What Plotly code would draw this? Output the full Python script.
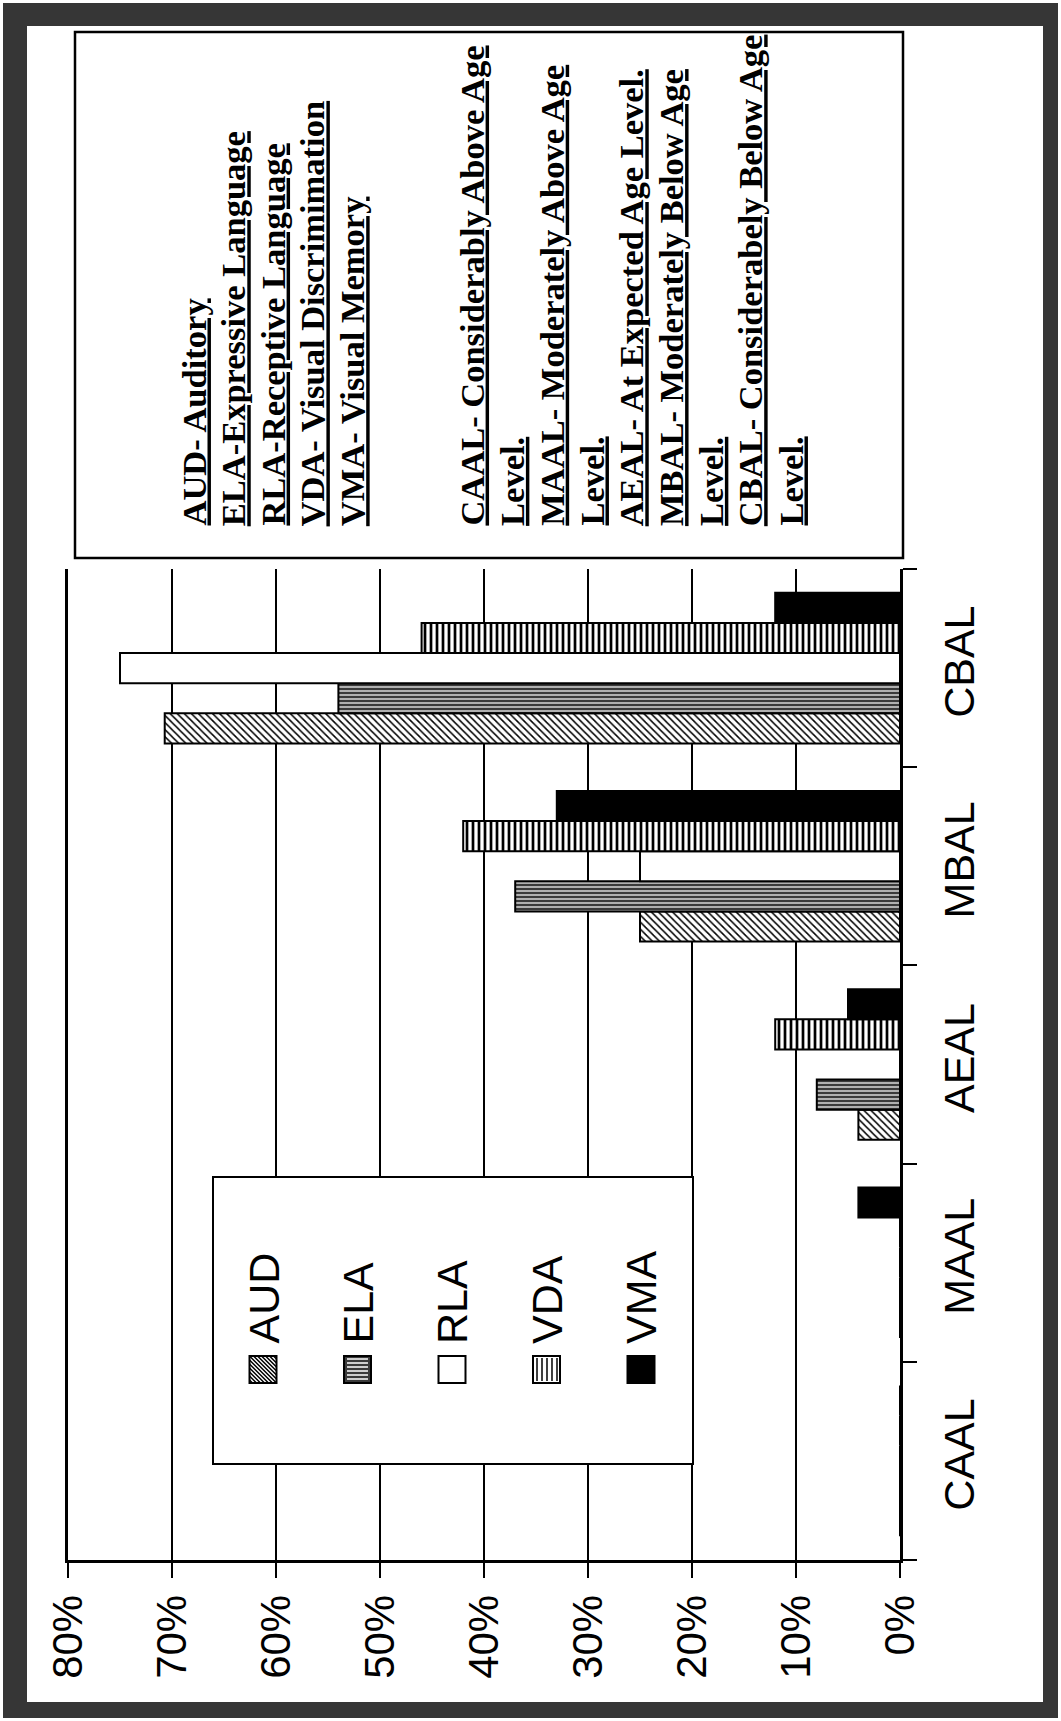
import plotly.graph_objects as go

W, H = 1061, 1721

# ---- data -------------------------------------------------------------
categories = ["CAAL", "MAAL", "AEAL", "MBAL", "CBAL"]
series_names = ["AUD", "ELA", "RLA", "VDA", "VMA"]
aud = [0, 0, 4, 25, 70.7]
ela = [0, 0, 8, 37, 54]
rla = [0, 0, 0, 25, 75]
vda = [0, 0, 12, 42, 46]
vma = [0, 4, 5, 33, 12]
value_ticks = [0, 10, 20, 30, 40, 50, 60, 70, 80]
value_tick_labels = [f"{v}%" for v in value_ticks]

definitions = [
    "AUD- Auditory",
    "ELA-Expressive Language",
    "RLA-Receptive Language",
    "VDA- Visual Discrimimation",
    "VMA- Visual Memory",
    "",
    "",
    "CAAL- Considerably Above Age",
    "Level.",
    "MAAL- Moderately Above Age",
    "Level.",
    "AEAL- At Expected Age Level.",
    "MBAL- Moderately Below Age",
    "Level.",
    "CBAL- Considerabely Below Age",
    "Level.",
]

# ---- styles -----------------------------------------------------------
SANS = "Liberation Sans, Arial, sans-serif"
SERIF = "Liberation Serif, Times New Roman, serif"
OUTLINE = dict(color="black", width=2)

series_markers = {
    "AUD": dict(color="white", line=OUTLINE,
                pattern=dict(shape="\\", fgcolor="black", bgcolor="white",
                             size=5, solidity=0.3, fillmode="replace")),
    "ELA": dict(color="#3a3a3a", line=OUTLINE,
                pattern=dict(shape="-", fgcolor="white", bgcolor="#3a3a3a",
                             size=4, solidity=0.3, fillmode="replace")),
    "RLA": dict(color="white", line=OUTLINE),
    "VDA": dict(color="white", line=OUTLINE,
                pattern=dict(shape="|", fgcolor="black", bgcolor="white",
                             size=6, solidity=0.45, fillmode="replace")),
    "VMA": dict(color="black", line=OUTLINE),
}
series_values = {"AUD": aud, "ELA": ela, "RLA": rla, "VDA": vda, "VMA": vma}


def px(x):
    return x / W


def py(y):
    return 1 - y / H


fig = go.Figure()
for name in series_names:
    fig.add_trace(go.Bar(
        name=name,
        y=categories,
        x=series_values[name],
        orientation="h",
        marker=series_markers[name],
        showlegend=False,
    ))

fig.update_layout(
    template="none",
    width=W,
    height=H,
    margin=dict(l=0, r=0, t=0, b=0),
    paper_bgcolor="white",
    plot_bgcolor="white",
    barmode="group",
    bargap=0.24,
    bargroupgap=0,
    xaxis=dict(
        domain=[px(68), px(900)],
        range=[80, 0],
        tickvals=value_ticks,
        ticktext=value_tick_labels,
        tickangle=-90,
        tickfont=dict(family=SANS, size=42, color="black"),
        ticks="outside",
        ticklen=15,
        tickwidth=2,
        tickcolor="black",
        ticklabelstandoff=0,
        showline=True,
        linecolor="black",
        linewidth=3,
        showgrid=True,
        gridcolor="black",
        gridwidth=2,
        zeroline=False,
        automargin=False,
        fixedrange=True,
    ),
    yaxis=dict(
        domain=[py(1560), py(569)],
        categoryorder="array",
        categoryarray=categories,
        side="right",
        tickangle=-90,
        tickfont=dict(family=SANS, size=43, color="black"),
        ticks="outside",
        tickson="boundaries",
        ticklen=14,
        tickwidth=2,
        tickcolor="black",
        ticklabelstandoff=20,
        showline=True,
        mirror=True,
        linecolor="black",
        linewidth=2.5,
        showgrid=False,
        zeroline=False,
        automargin=False,
        fixedrange=True,
    ),
)

shapes = []
annotations = []

# outer dark frame (four bands)
FRAME = "#363636"
for (x0, y0, x1, y1) in [(3, 3, 1058, 26), (3, 1702, 1058, 1718),
                         (3, 3, 27, 1718), (1043, 3, 1058, 1718)]:
    shapes.append(dict(type="rect", xref="paper", yref="paper",
                       x0=px(x0), x1=px(x1), y0=py(y0), y1=py(y1),
                       line=dict(width=0), fillcolor=FRAME))

# definitions box
shapes.append(dict(type="rect", xref="paper", yref="paper",
                   x0=px(75), x1=px(903), y0=py(32), y1=py(558),
                   line=dict(color="black", width=2.5), fillcolor="rgba(0,0,0,0)"))

for i, line in enumerate(definitions):
    if not line:
        continue
    annotations.append(dict(
        xref="paper", yref="paper",
        x=px(193 + 39.8 * i), y=py(528),
        xanchor="center", yanchor="bottom",
        text=f"<b><u>{line}</u></b>",
        textangle=-90,
        showarrow=False,
        font=dict(family=SERIF, size=34.5, color="black"),
    ))

# legend box
shapes.append(dict(type="rect", xref="paper", yref="paper",
                   x0=px(213), x1=px(693), y0=py(1177), y1=py(1464),
                   line=dict(color="black", width=2), fillcolor="white"))


def seg_path(segments):
    parts = []
    for (x0, y0, x1, y1) in segments:
        parts.append(f"M{px(x0):.5f},{py(y0):.5f}L{px(x1):.5f},{py(y1):.5f}")
    return "".join(parts)


swatch_fill = {"AUD": "white", "ELA": "#3a3a3a", "RLA": "white", "VDA": "white", "VMA": "black"}
for k, name in enumerate(series_names):
    cx = 263 + 94.5 * k
    sx0, sx1 = cx - 13.5, cx + 13.5
    sy0, sy1 = 1356, 1383
    shapes.append(dict(type="rect", xref="paper", yref="paper",
                       x0=px(sx0), x1=px(sx1), y0=py(sy0), y1=py(sy1),
                       line=dict(color="black", width=2), fillcolor=swatch_fill[name]))
    segs = []
    line_col = "black"
    if name == "AUD":
        for d in range(-24, 27, 4):
            a0 = max(0, d)
            a1 = min(27, 27 + d)
            if a1 - a0 > 1:
                segs.append((sx0 + a0, sy0 + a0 - d, sx0 + a1, sy0 + a1 - d))
    elif name == "ELA":
        for j in range(3, 27, 4):
            segs.append((sx0 + 3, sy0 + j, sx1 - 3, sy0 + j))
        line_col = "white"
    elif name == "VDA":
        for j in range(4, 27, 5):
            segs.append((sx0 + j, sy0 + 2, sx0 + j, sy1 - 2))
    if segs:
        shapes.append(dict(type="path", xref="paper", yref="paper",
                           path=seg_path(segs),
                           line=dict(color=line_col, width=1.5)))
    annotations.append(dict(
        xref="paper", yref="paper",
        x=px(cx), y=py(1346),
        xanchor="center", yanchor="bottom",
        text=name,
        textangle=-90,
        showarrow=False,
        font=dict(family=SANS, size=43, color="black"),
    ))

fig.update_layout(shapes=shapes, annotations=annotations)

fig.write_html("out.html")
